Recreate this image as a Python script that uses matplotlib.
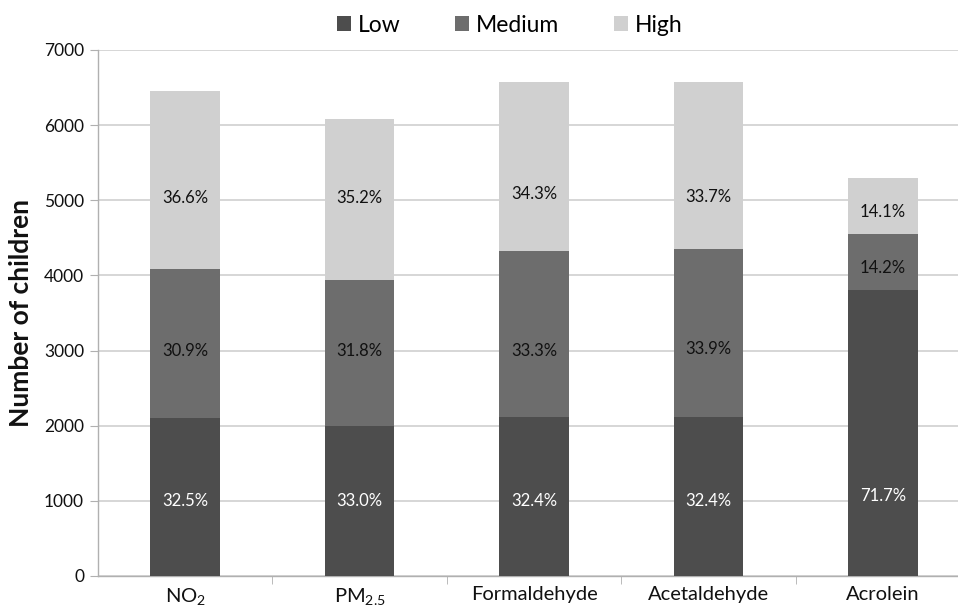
import matplotlib
matplotlib.use("Agg")
import matplotlib.pyplot as plt
import numpy as np

plt.rcParams['font.family'] = ['Lato', 'DejaVu Sans']
plt.rcParams['mathtext.fontset'] = 'custom'
plt.rcParams['mathtext.rm'] = 'Lato'
plt.rcParams['mathtext.it'] = 'Lato'
plt.rcParams['mathtext.default'] = 'regular'

categories = ["NO$_2$", "PM$_{2.5}$", "Formaldehyde", "Acetaldehyde", "Acrolein"]
series_names = ["Low", "Medium", "High"]
low = [2103, 1996, 2116, 2116, 3800]
medium = [1983, 1943, 2209, 2236, 753]
high = [2369, 2143, 2249, 2222, 744]
pct_low = ["32.5%", "33.0%", "32.4%", "32.4%", "71.7%"]
pct_medium = ["30.9%", "31.8%", "33.3%", "33.9%", "14.2%"]
pct_high = ["36.6%", "35.2%", "34.3%", "33.7%", "14.1%"]
# label anchor values (as placed in the original chart)
lab_low = [1000, 1000, 1000, 1000, 1060]
lab_medium = [3000, 3000, 3000, 3020, 4100]
lab_high = [5030, 5030, 5080, 5050, 4840]

colors = ["#4d4d4d", "#6d6d6d", "#d0d0d0"]
text_colors = ["white", "#111111", "#111111"]

fig = plt.figure(figsize=(9.58, 6.11), dpi=100)
ax = fig.add_axes([98/958, 35/611, 872/958, 526/611])

x = np.arange(len(categories))
w = 0.40
bottoms = np.zeros(len(categories))
data = [low, medium, high]
labels = [pct_low, pct_medium, pct_high]
lab_pos = [lab_low, lab_medium, lab_high]
handles = []
for i, (vals, c) in enumerate(zip(data, colors)):
    b = ax.bar(x, vals, w, bottom=bottoms, color=c, label=series_names[i], zorder=3)
    handles.append(b)
    for j in range(len(categories)):
        ax.text(x[j], lab_pos[i][j], labels[i][j], ha='center', va='center',
                fontsize=12, color=text_colors[i], zorder=4)
    bottoms = bottoms + np.array(vals)

ax.set_xlim(-0.5, 4.5)
ax.set_ylim(0, 7000)
ax.set_yticks(range(0, 7001, 1000))
ax.tick_params(axis='y', labelsize=12.5, length=6, color='#b0b0b0', labelcolor='#111111', pad=4)
ax.set_xticks(x)
ax.set_xticklabels(categories, fontsize=14.5, color='#111111')
ax.tick_params(axis='x', which='major', length=0, pad=7)
ax.set_xticks(np.arange(0.5, 4.5, 1), minor=True)
ax.tick_params(axis='x', which='minor', length=6, color='#b0b0b0')
ax.yaxis.grid(True, color='#d0d0d0', linewidth=1.2, zorder=0)
ax.set_axisbelow(True)
for s in ['top', 'right']:
    ax.spines[s].set_visible(False)
for s in ['left', 'bottom']:
    ax.spines[s].set_color('#b0b0b0')
    ax.spines[s].set_linewidth(1.0)
ax.set_ylabel("Number of children", fontsize=19, fontweight='bold', labelpad=8, color='#111111')

fig.legend(handles=handles, labels=series_names, loc='upper center',
           bbox_to_anchor=(0.532, 1.01), ncol=3, frameon=False, fontsize=16.5,
           handlelength=0.6, handleheight=0.6, handletextpad=0.3, columnspacing=2.4)

fig.savefig("out.png", dpi=100)
